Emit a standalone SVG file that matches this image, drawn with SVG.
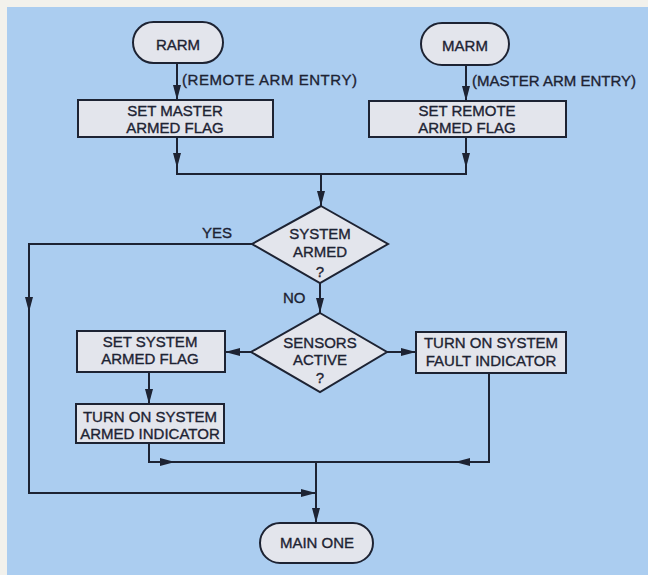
<svg xmlns="http://www.w3.org/2000/svg" width="648" height="575" viewBox="0 0 648 575">
<defs>
<style>
.bg{fill:#f2f1ec}
.panel{fill:#abcdf0}
.node{fill:#e3e5ec;stroke:#1d2333;stroke-width:2}
.t{font-family:"Liberation Sans",Arial,sans-serif;font-size:15px;fill:#1d2333;stroke:#1d2333;stroke-width:0.35;text-anchor:middle}
.l{font-family:"Liberation Sans",Arial,sans-serif;font-size:15px;fill:#1d2333;stroke:#1d2333;stroke-width:0.35}
.c{fill:none;stroke:#1d2333;stroke-width:2}
</style>
<marker id="ah" markerUnits="userSpaceOnUse" markerWidth="16" markerHeight="10" refX="15" refY="4" orient="auto">
<path d="M0 0 L15 4 L0 8 Z" fill="#1d2333"/>
</marker>
</defs>
<rect class="bg" x="0" y="0" width="648" height="575"/>
<rect class="panel" x="7" y="7" width="641" height="568"/>

<g id="connectors">
<path class="c" d="M177 63 V100" marker-end="url(#ah)"/>
<path class="c" d="M466 65 V101" marker-end="url(#ah)"/>
<path class="c" d="M177 137 V168" marker-end="url(#ah)"/>
<path class="c" d="M177 168 V174 H321"/>
<path class="c" d="M466 137 V168" marker-end="url(#ah)"/>
<path class="c" d="M466 168 V174 H321"/>
<path class="c" d="M321 174 V206" marker-end="url(#ah)"/>
<path class="c" d="M252 244 H29 V312" marker-end="url(#ah)"/>
<path class="c" d="M29 312 V493 H316" marker-end="url(#ah)"/>
<path class="c" d="M320 283 V313" marker-end="url(#ah)"/>
<path class="c" d="M251 352 H225" marker-end="url(#ah)"/>
<path class="c" d="M387 352 H416" marker-end="url(#ah)"/>
<path class="c" d="M149 372 V404" marker-end="url(#ah)"/>
<path class="c" d="M149 443 V462 H175" marker-end="url(#ah)"/>
<path class="c" d="M175 462 H316"/>
<path class="c" d="M489 373 V462 H455" marker-end="url(#ah)"/>
<path class="c" d="M455 462 H316"/>
<path class="c" d="M316 462 V523" marker-end="url(#ah)"/>
<text class="l" x="182" y="85" textLength="175">(REMOTE ARM ENTRY)</text>
<text class="l" x="472" y="86" textLength="164">(MASTER ARM ENTRY)</text>
<text class="l" x="202" y="238">YES</text>
<text class="l" x="283" y="303">NO</text>
</g>

<g id="rarm">
<rect class="node" x="133" y="22" width="90" height="41" rx="20.5"/>
<text class="t" x="178" y="50">RARM</text>
</g>
<g id="marm">
<rect class="node" x="421" y="23" width="88" height="42" rx="21"/>
<text class="t" x="465" y="51">MARM</text>
</g>
<g id="set-master">
<rect class="node" x="78" y="100" width="195" height="37"/>
<text class="t" x="175" y="116">SET MASTER</text>
<text class="t" x="175" y="133">ARMED FLAG</text>
</g>
<g id="set-remote">
<rect class="node" x="369" y="101" width="197" height="36"/>
<text class="t" x="467" y="116">SET REMOTE</text>
<text class="t" x="467" y="133">ARMED FLAG</text>
</g>
<g id="system-armed">
<polygon class="node" points="321,206 388,244 320,283 252,244"/>
<text class="t" x="320" y="239">SYSTEM</text>
<text class="t" x="320" y="257">ARMED</text>
<text class="t" x="320" y="277">?</text>
</g>
<g id="sensors-active">
<polygon class="node" points="320,313 387,352 320,392 251,352"/>
<text class="t" x="320" y="348">SENSORS</text>
<text class="t" x="320" y="365">ACTIVE</text>
<text class="t" x="320" y="383">?</text>
</g>
<g id="set-system">
<rect class="node" x="77" y="331" width="148" height="41"/>
<text class="t" x="150" y="347">SET SYSTEM</text>
<text class="t" x="150" y="364">ARMED FLAG</text>
</g>
<g id="turn-on-armed">
<rect class="node" x="76" y="404" width="148" height="39"/>
<text class="t" x="150" y="422">TURN ON SYSTEM</text>
<text class="t" x="150" y="439">ARMED INDICATOR</text>
</g>
<g id="turn-on-fault">
<rect class="node" x="416" y="332" width="150" height="41"/>
<text class="t" x="491" y="348">TURN ON SYSTEM</text>
<text class="t" x="491" y="366">FAULT INDICATOR</text>
</g>
<g id="main-one">
<rect class="node" x="260" y="523" width="113" height="40" rx="20"/>
<text class="t" x="317" y="548">MAIN ONE</text>
</g>
</svg>
